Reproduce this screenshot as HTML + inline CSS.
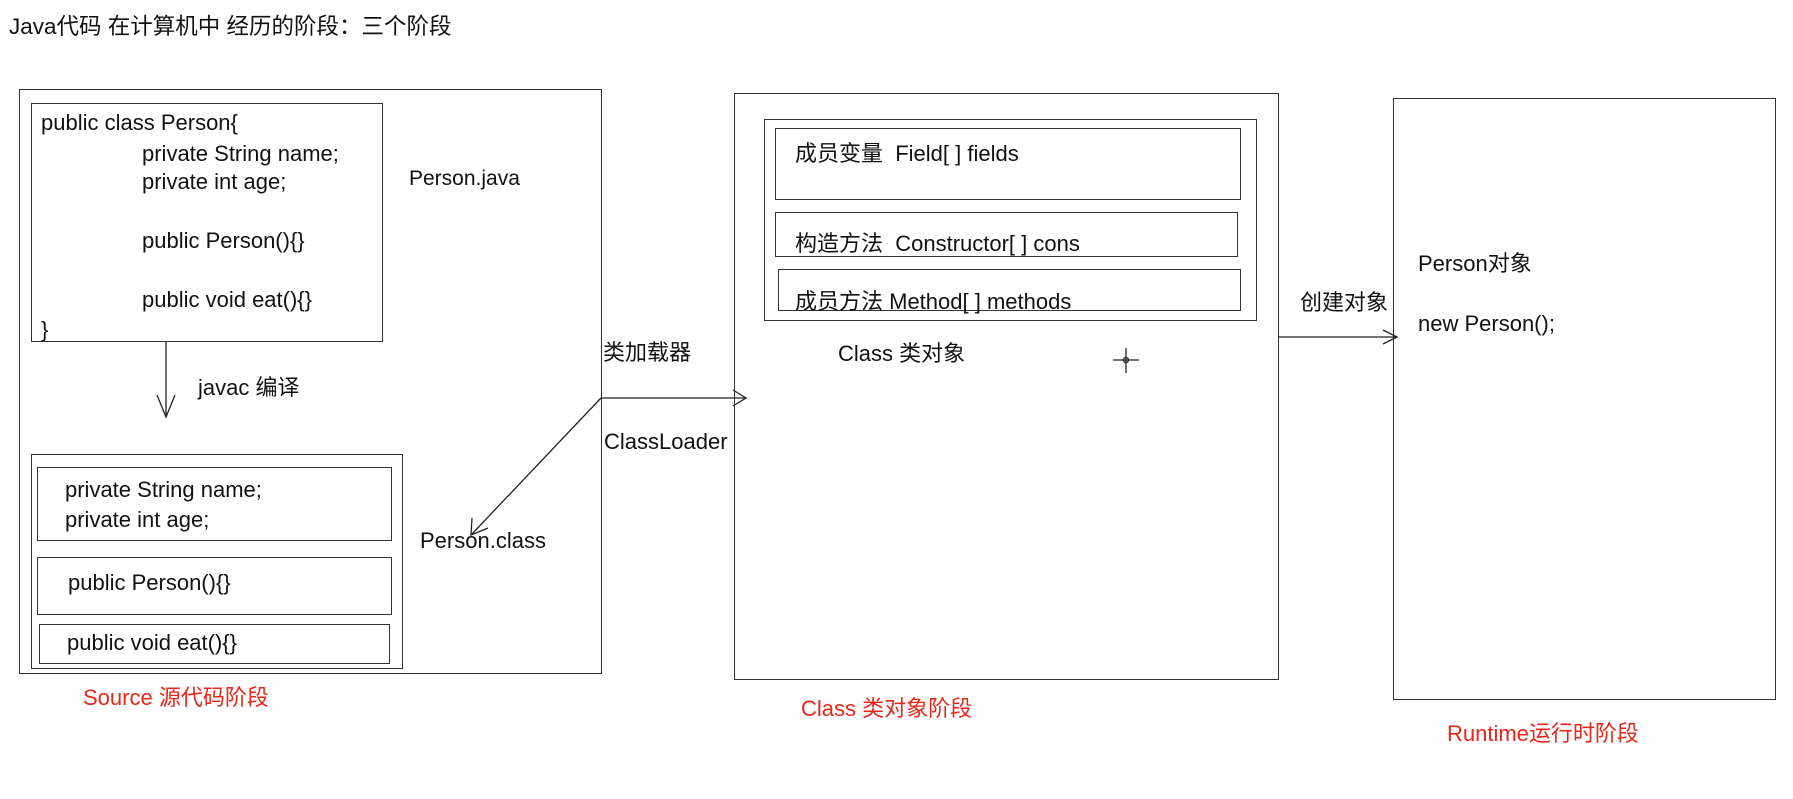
<!DOCTYPE html>
<html><head><meta charset="utf-8"><style>
body{margin:0;width:1793px;height:799px;background:#fff;position:relative;overflow:hidden;font-family:"Liberation Sans","Noto Sans CJK SC",sans-serif;font-size:22px;color:#111}
.t{position:absolute;white-space:nowrap;line-height:24px;transform:translateY(-10px)}
.b{position:absolute;border:1.6px solid #333;box-sizing:border-box}
.r{color:#e8261a}
</style></head><body>
<div class="t" style="left:9px;top:25px;font-size:22.5px">Java代码 在计算机中 经历的阶段：三个阶段</div>

<div class="b" style="left:19px;top:89px;width:583px;height:585px"></div>
<div class="b" style="left:31px;top:103px;width:352px;height:239px"></div>
<div class="t" style="left:41px;top:121px">public class Person{</div>
<div class="t" style="left:142px;top:152px">private String name;</div>
<div class="t" style="left:142px;top:180px">private int age;</div>
<div class="t" style="left:142px;top:239px">public Person(){}</div>
<div class="t" style="left:142px;top:298px">public void eat(){}</div>
<div class="t" style="left:41px;top:328px">}</div>
<div class="t" style="left:409px;top:177px;font-size:21px">Person.java</div>
<div class="t" style="left:198px;top:386px">javac 编译</div>

<div class="b" style="left:31px;top:454px;width:372px;height:215px"></div>
<div class="b" style="left:37px;top:467px;width:355px;height:74px"></div>
<div class="b" style="left:37px;top:557px;width:355px;height:58px"></div>
<div class="b" style="left:39px;top:624px;width:351px;height:40px"></div>
<div class="t" style="left:65px;top:488px">private String name;</div>
<div class="t" style="left:65px;top:518px">private int age;</div>
<div class="t" style="left:68px;top:581px">public Person(){}</div>
<div class="t" style="left:67px;top:641px">public void eat(){}</div>
<div class="t" style="left:420px;top:539px">Person.class</div>
<div class="t r" style="left:83px;top:696px">Source 源代码阶段</div>

<div class="t" style="left:603px;top:351px">类加载器</div>
<div class="t" style="left:604px;top:440px">ClassLoader</div>

<div class="b" style="left:734px;top:93px;width:545px;height:587px"></div>
<div class="b" style="left:764px;top:119px;width:493px;height:202px"></div>
<div class="b" style="left:775px;top:128px;width:466px;height:72px"></div>
<div class="b" style="left:775px;top:212px;width:463px;height:45px"></div>
<div class="b" style="left:778px;top:269px;width:463px;height:42px"></div>
<div class="t" style="left:795px;top:152px">成员变量&nbsp; Field[ ] fields</div>
<div class="t" style="left:795px;top:242px">构造方法&nbsp; Constructor[ ] cons</div>
<div class="t" style="left:795px;top:300px">成员方法 Method[ ] methods</div>
<div class="t" style="left:838px;top:352px">Class 类对象</div>
<div class="t r" style="left:801px;top:707px">Class 类对象阶段</div>

<div class="t" style="left:1300px;top:301px">创建对象</div>
<div class="b" style="left:1393px;top:98px;width:383px;height:602px"></div>
<div class="t" style="left:1418px;top:262px">Person对象</div>
<div class="t" style="left:1418px;top:322px">new Person();</div>
<div class="t r" style="left:1447px;top:732px">Runtime运行时阶段</div>

<svg width="1793" height="799" style="position:absolute;left:0;top:0" fill="none" stroke="#222" stroke-width="1.3">
<line x1="166" y1="342" x2="166" y2="417"/>
<polyline points="157,395 166,417 175,395"/>
<line x1="601" y1="398" x2="471" y2="535"/>
<polyline points="472,518 471,535 488,528"/>
<line x1="601" y1="398" x2="745" y2="398"/>
<polyline points="733,390 746,398 733,406"/>
<line x1="1278" y1="337" x2="1397" y2="337"/>
<polyline points="1383,330 1397,337 1383,344"/>
<line x1="1126" y1="348" x2="1126" y2="373"/>
<line x1="1113" y1="360" x2="1139" y2="360"/>
<circle cx="1126" cy="360" r="2.5"/>
</svg>
</body></html>
